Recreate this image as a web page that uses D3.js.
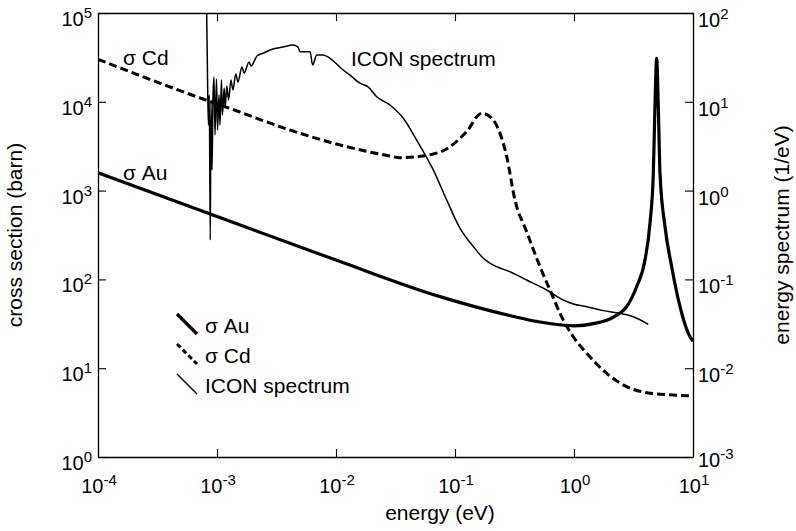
<!DOCTYPE html>
<html>
<head>
<meta charset="utf-8">
<script src="https://cdn.jsdelivr.net/npm/d3@7"></script>
<style>
  body { margin: 0; background: #fff; }
  svg { display: block; font-family: "Liberation Sans", Arial, sans-serif; }
</style>
</head>
<body>
<div id="chart"></div>
<script>
const width = 796;
const height = 531;

// tick values (decades)
const energyTicks = [1e-4, 1e-3, 1e-2, 1e-1, 1e0, 1e1];
const sigmaTicks = [1e0, 1e1, 1e2, 1e3, 1e4, 1e5];
const spectrumTicks = [1e-3, 1e-2, 1e-1, 1e0, 1e1, 1e2];

// sigma Au (barn) vs energy (eV)
const auEnergy = [1e-4, 1e-3, 1e-2, 0.0748, 0.3, 0.5, 1.0, 1.5, 2.0, 2.21, 2.77, 3.36, 3.95, 4.35, 4.64, 4.79, 4.95, 5.11, 5.28, 5.82, 6.62, 7.78, 9.13, 10];
const auSigma = [1590, 510, 165, 64, 38.7, 33.4, 30, 32, 35.8, 38.5, 49.3, 82.7, 165, 428, 1567, 8810, 30900, 8810, 1567, 392, 139, 49.3, 24.7, 20];

// sigma Cd (barn) vs energy (eV)
const cdEnergy = [1e-4, 7.62e-4, 1.21e-3, 4.10e-3, 0.0108, 0.0284, 0.0345, 0.0538, 0.0908, 0.125, 0.168, 0.203, 0.272, 0.319, 0.401, 0.518, 0.628, 0.812, 0.986, 1.28, 1.88, 2.77, 4.08, 6.83, 10];
const cdSigma = [30100, 10760, 8670, 4810, 3265, 2452, 2346, 2452, 3120, 4606, 7420, 6570, 2409, 784, 342, 139, 76, 34.9, 22.6, 14.7, 8.76, 6.19, 5.30, 4.99, 4.86];

// ICON energy spectrum (1/eV) vs energy (eV)
const iconEnergy = [8.19e-4, 8.35e-4, 8.48e-4, 8.61e-4, 8.78e-4, 8.90e-4, 9.08e-4, 9.26e-4, 9.44e-4, 9.62e-4, 9.90e-4, 1.01e-3, 1.04e-3, 1.06e-3, 1.09e-3, 1.11e-3, 1.15e-3, 1.17e-3, 1.21e-3, 1.25e-3, 1.31e-3, 1.36e-3, 1.44e-3, 1.50e-3, 1.62e-3, 1.69e-3, 1.86e-3, 1.93e-3, 2.17e-3, 2.48e-3, 2.79e-3, 3.59e-3, 4.35e-3, 4.79e-3, 4.98e-3, 6.05e-3, 6.37e-3, 6.88e-3, 7.78e-3, 8.91e-3, 0.0115, 0.0131, 0.0159, 0.0186, 0.0220, 0.0284, 0.0368, 0.0476, 0.0657, 0.0852, 0.110, 0.143, 0.173, 0.224, 0.290, 0.400, 0.590, 0.813, 0.986, 1.28, 1.76, 2.44, 3.15, 4.21];
const iconSpectrum = [100, 13.6, 5.48, 11.9, 0.278, 10.5, 1.71, 11.9, 19.0, 4.23, 18.1, 4.81, 11.9, 5.48, 17.6, 7.10, 14.3, 8.51, 15.1, 10.5, 17.6, 13.6, 20.6, 16.7, 24.6, 21.1, 28.1, 25.3, 32.8, 35.5, 38.3, 41.4, 43.6, 41.4, 36.7, 36.7, 26.0, 33.7, 33.7, 30.9, 22.8, 20.0, 16.2, 14.7, 11.4, 9.20, 6.52, 3.71, 1.71, 0.783, 0.379, 0.233, 0.173, 0.139, 0.122, 0.0984, 0.0760, 0.0586, 0.0529, 0.0493, 0.0445, 0.0415, 0.0380, 0.0312];

const legendItems = ["σ Au", "σ Cd", "ICON spectrum"];

const plot = { left: 98, right: 693, top: 13, bottom: 457 };

let x = d3.scaleLog().domain([1e-4, 10]).range([plot.left, plot.right]);
let yLeft = d3.scaleLog().domain([1, 1e5]).range([plot.bottom, plot.top]);
let yRight = d3.scaleLog().domain([1e-3, 1e2]).range([plot.bottom, plot.top]);

let svg = d3.select("#chart").append("svg")
    .attr("width", width)
    .attr("height", height);

svg.append("rect").attr("width", width).attr("height", height).attr("fill", "#fff");

svg.append("defs").append("clipPath").attr("id", "plotClip")
    .append("rect")
    .attr("x", plot.left).attr("y", plot.top)
    .attr("width", plot.right - plot.left)
    .attr("height", plot.bottom - plot.top);

// axes, ticks pointing inward
function styleAxis(g) {
    g.selectAll("path.domain").attr("stroke", "#000").attr("stroke-width", 1.3);
    g.selectAll(".tick line").attr("stroke", "#000").attr("stroke-width", 1.1);
    g.selectAll(".tick text").remove();
}

svg.append("g").attr("transform", `translate(0,${plot.bottom})`)
    .call(d3.axisBottom(x).tickValues(energyTicks).tickSizeInner(-8).tickSizeOuter(0))
    .call(styleAxis);
svg.append("g").attr("transform", `translate(0,${plot.top})`)
    .call(d3.axisTop(x).tickValues(energyTicks).tickSizeInner(-8).tickSizeOuter(0))
    .call(styleAxis);
svg.append("g").attr("transform", `translate(${plot.left},0)`)
    .call(d3.axisLeft(yLeft).tickValues(sigmaTicks).tickSizeInner(-8).tickSizeOuter(0))
    .call(styleAxis);
svg.append("g").attr("transform", `translate(${plot.right},0)`)
    .call(d3.axisRight(yRight).tickValues(spectrumTicks).tickSizeInner(-8).tickSizeOuter(0))
    .call(styleAxis);

// power-of-ten tick labels
function powerLabel(sel, v) {
    sel.append("tspan").attr("font-size", 20).text("10");
    sel.append("tspan").attr("font-size", 15).attr("dy", -8).text(String(Math.round(Math.log10(v))));
}

svg.append("g").selectAll("text")
    .data(energyTicks).enter().append("text")
    .attr("x", d => x(d) + 1)
    .attr("y", plot.bottom + 36)
    .attr("text-anchor", "middle")
    .each(function (d) { powerLabel(d3.select(this), d); });

svg.append("g").selectAll("text")
    .data(sigmaTicks).enter().append("text")
    .attr("x", plot.left - 6)
    .attr("y", d => yLeft(d) + 13)
    .attr("text-anchor", "end")
    .each(function (d) { powerLabel(d3.select(this), d); });

svg.append("g").selectAll("text")
    .data(spectrumTicks).enter().append("text")
    .attr("x", plot.right + 5)
    .attr("y", d => yRight(d) + (d === 1e-3 ? 10 : 14))
    .attr("text-anchor", "start")
    .each(function (d) { powerLabel(d3.select(this), d); });

// axis titles
svg.append("text")
    .attr("x", 440).attr("y", 520)
    .attr("text-anchor", "middle")
    .attr("font-size", 21)
    .text("energy (eV)");

svg.append("text")
    .attr("transform", `translate(22,${(plot.top + plot.bottom) / 2}) rotate(-90)`)
    .attr("text-anchor", "middle")
    .attr("font-size", 21)
    .text("cross section (barn)");

svg.append("text")
    .attr("transform", `translate(789,${(plot.top + plot.bottom) / 2}) rotate(-90)`)
    .attr("text-anchor", "middle")
    .attr("font-size", 21)
    .text("energy spectrum (1/eV)");

// series
let curves = svg.append("g").attr("clip-path", "url(#plotClip)");

let sigmaLine = d3.line()
    .x(d => x(d[0]))
    .y(d => yLeft(d[1]))
    .curve(d3.curveMonotoneX);

let spectrumLine = d3.line()
    .x(d => x(d[0]))
    .y(d => yRight(d[1]))
    .curve(d3.curveMonotoneX);

curves.append("path")
    .datum(d3.zip(cdEnergy, cdSigma))
    .attr("d", sigmaLine)
    .attr("fill", "none")
    .attr("stroke", "#000")
    .attr("stroke-width", 3)
    .attr("stroke-dasharray", "8,4");

curves.append("path")
    .datum(d3.zip(iconEnergy, iconSpectrum))
    .attr("d", spectrumLine)
    .attr("fill", "none")
    .attr("stroke", "#000")
    .attr("stroke-width", 1.5)
    .attr("stroke-linejoin", "round");

curves.append("path")
    .datum(d3.zip(auEnergy, auSigma))
    .attr("d", sigmaLine)
    .attr("fill", "none")
    .attr("stroke", "#000")
    .attr("stroke-width", 3.2)
    .attr("stroke-linejoin", "round");

// in-plot labels
svg.append("text").attr("x", 123).attr("y", 65).attr("font-size", 21).text("σ Cd");
svg.append("text").attr("x", 123).attr("y", 180).attr("font-size", 21).text("σ Au");
svg.append("text").attr("x", 351).attr("y", 66).attr("font-size", 21).text("ICON spectrum");

// legend with diagonal samples
let legendStyles = [
    { width: 3.2, dash: null },
    { width: 3, dash: "5,3" },
    { width: 1.5, dash: null }
];
let legend = svg.append("g").selectAll("g")
    .data(legendItems).enter().append("g")
    .attr("transform", (d, i) => `translate(0,${333 + i * 30})`);

legend.append("line")
    .attr("x1", 177).attr("y1", -19)
    .attr("x2", 197).attr("y2", 1)
    .attr("stroke", "#000")
    .attr("stroke-width", (d, i) => legendStyles[i].width)
    .attr("stroke-dasharray", (d, i) => legendStyles[i].dash);

legend.append("text")
    .attr("x", 205).attr("y", 0)
    .attr("font-size", 21)
    .text(d => d);
</script>
</body>
</html>
